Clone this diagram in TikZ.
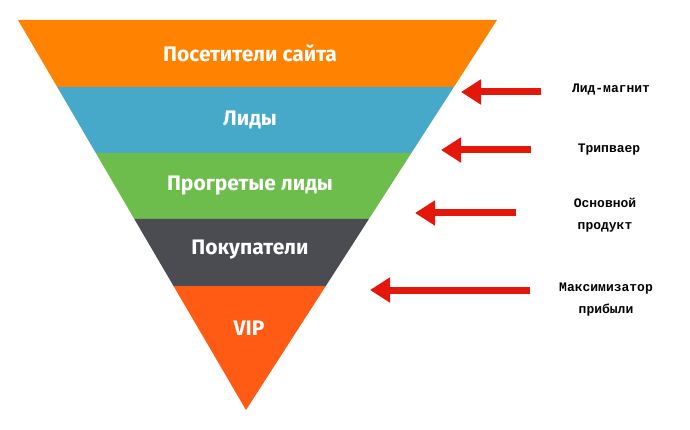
\documentclass[tikz,border=0pt]{standalone}
\usepackage{fontspec}
\setmainfont{Fira Sans}
\newfontfamily\monof{Liberation Mono}
\usetikzlibrary{arrows.meta}
\definecolor{cOr}{HTML}{FF8300}
\definecolor{cBl}{HTML}{46A9C9}
\definecolor{cGr}{HTML}{6CBD4B}
\definecolor{cDk}{HTML}{4A4C52}
\definecolor{cRd}{HTML}{FF5B14}
\definecolor{cAr}{HTML}{E3180B}
\tikzset{
 band/.style={white,font=\fontsize{21}{24}\selectfont\bfseries},
 lbl/.style={font=\monof\bfseries\fontsize{13}{22}\selectfont,align=center,black},
 arr/.style={cAr,line width=7pt,-{Triangle[length=20pt,width=24pt]}}
}
\begin{document}
\begin{tikzpicture}[x=1pt,y=-1pt]
\useasboundingbox (0,0) rectangle (690,430);
\fill[cOr] (18,20) -- (497,20) -- (453.9,87) -- (57.2,87) -- cycle;
\fill[cBl] (57.2,87) -- (453.9,87) -- (411.4,153) -- (95.8,153) -- cycle;
\fill[cGr] (95.8,153) -- (411.4,153) -- (368.9,219) -- (134.3,219) -- cycle;
\fill[cDk] (134.3,219) -- (368.9,219) -- (325.8,286) -- (173.5,286) -- cycle;
\fill[cRd] (173.5,286) -- (325.8,286) -- (246,410) -- cycle;
\node[band] (b1) at (250,53) {Посетители сайта};
\node[band] (b2) at (250,120) {Лиды};
\node[band] (b3) at (250,186) {Прогретые лиды};
\node[band] (b4) at (250,250) {Покупатели};
\node[band] (b5) at (249,328) {VIP};
\node[lbl] (l1) at (611,90) {Лид-магнит};
\node[lbl] (l2) at (609,150) {Трипваер};
\node[lbl] (l3) at (605,215) {Основной\\продукт};
\node[lbl] (l4) at (606,300) {Максимизатор\\прибыли};
\coordinate (s1) at (541,92); \coordinate (e1) at (461,92);
\coordinate (s2) at (531,150); \coordinate (e2) at (441,150);
\coordinate (s3) at (516,213); \coordinate (e3) at (415,213);
\coordinate (s4) at (530,290); \coordinate (e4) at (370,290);
\draw[arr] (s1) -- (e1);
\draw[arr] (s2) -- (e2);
\draw[arr] (s3) -- (e3);
\draw[arr] (s4) -- (e4);
\end{tikzpicture}
\end{document}
